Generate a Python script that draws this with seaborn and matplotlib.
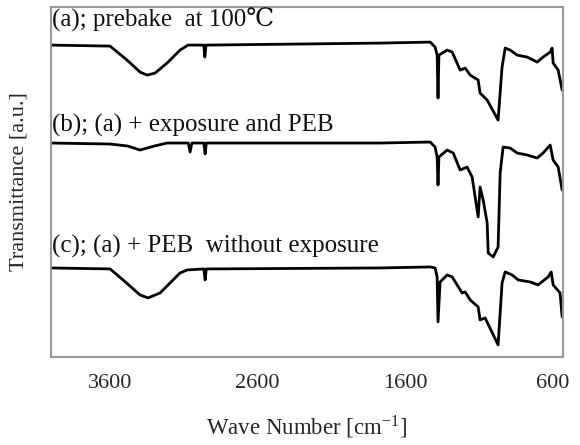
import matplotlib
matplotlib.use("Agg")
import matplotlib.pyplot as plt
import seaborn as sns
import pandas as pd

# ---- data (wave number [cm-1], transmittance [a.u.]) ----
wn_a = [4000, 3600, 3485, 3397, 3349, 3295, 3214, 3126, 3072, 2965, 2958, 2950,
        1770, 1431, 1398, 1384, 1378, 1372, 1316, 1282, 1228, 1194, 1160, 1106,
        1093, 1045, 971, 944, 923, 889, 842, 774, 706, 666, 618, 605, 598, 564, 537]
t_a = [3.12, 3.11, 2.97, 2.85, 2.82, 2.84, 2.94, 3.07, 3.12, 3.12, 3.00, 3.12,
       3.14, 3.15, 3.10, 3.02, 2.59, 3.02, 3.07, 3.05, 2.87, 2.89, 2.82, 2.77,
       2.64, 2.57, 2.37, 2.90, 3.09, 3.07, 3.02, 3.00, 2.95, 3.00, 3.05, 3.09, 2.94, 2.87, 2.67]

wn_b = [4000, 3600, 3480, 3397, 3300, 3214, 3070, 3058, 3046, 2965, 2956, 2948,
        1770, 1431, 1398, 1384, 1378, 1372, 1316, 1275, 1228, 1181, 1147, 1106,
        1093, 1072, 1045, 1038, 1004, 971, 957, 937, 889, 842, 774, 706, 666, 618,
        598, 564, 537]
t_b = [2.14, 2.13, 2.11, 2.07, 2.11, 2.14, 2.14, 2.05, 2.14, 2.14, 2.03, 2.14,
       2.14, 2.15, 2.10, 2.00, 1.72, 2.00, 2.07, 2.04, 1.87, 1.90, 1.80, 1.40,
       1.70, 1.57, 1.34, 1.04, 1.00, 1.10, 1.84, 2.10, 2.09, 2.04, 2.02, 1.99, 2.04, 2.12,
       1.97, 1.90, 1.67]

wn_c = [4000, 3600, 3512, 3397, 3343, 3261, 3126, 3078, 2965, 2956, 2948,
        1770, 1431, 1398, 1384, 1378, 1364, 1316, 1282, 1215, 1194, 1160, 1106,
        1093, 1059, 971, 944, 923, 876, 835, 754, 700, 632, 611, 598, 551, 537]
t_c = [0.89, 0.88, 0.77, 0.62, 0.59, 0.64, 0.84, 0.87, 0.88, 0.77, 0.88,
       0.89, 0.90, 0.89, 0.80, 0.35, 0.75, 0.82, 0.80, 0.64, 0.65, 0.57, 0.50,
       0.37, 0.39, 0.12, 0.74, 0.85, 0.82, 0.77, 0.75, 0.72, 0.80, 0.85, 0.72, 0.64, 0.40]

labels = ["(a); prebake  at 100\u2103",
          "(b); (a) + exposure and PEB",
          "(c); (a) + PEB  without exposure"]
label_y = [3.37, 2.32, 1.11]
xticks = [3600, 2600, 1600, 600]

df = pd.concat([
    pd.DataFrame({"wn": wn_a, "T": t_a, "s": "a"}),
    pd.DataFrame({"wn": wn_b, "T": t_b, "s": "b"}),
    pd.DataFrame({"wn": wn_c, "T": t_c, "s": "c"}),
])

sns.set_style("white")
plt.rcParams["font.family"] = ["Liberation Serif", "DejaVu Serif"]
plt.rcParams["mathtext.fontset"] = "stix"

fig = plt.figure(figsize=(5.8, 4.45), dpi=100)
ax = fig.add_axes([0.088, 0.198, 0.883, 0.786])

sns.lineplot(data=df, x="wn", y="T", units="s", estimator=None,
             color="black", linewidth=2.0, ax=ax, legend=False)

for lab, ly in zip(labels, label_y):
    ax.text(3993, ly, lab, fontsize=18, va="center", ha="left",
            family=["Liberation Serif", "DejaVu Serif"], color="#111")

ax.set_xlim(4000, 530)
ax.set_ylim(0, 3.5)
ax.set_xticks(xticks)
ax.set_xticklabels([str(v) for v in xticks], fontsize=16)
ax.set_yticks([])
ax.tick_params(axis="x", direction="in", length=5, color="#999", pad=12)
for sp in ax.spines.values():
    sp.set_color("#999")
    sp.set_linewidth(1.5)
ax.set_xlabel("Wave Number [cm$^{\\mathregular{-1}}$]", fontsize=16.5, labelpad=15)
ax.set_ylabel("Transmittance [a.u.]", fontsize=16, labelpad=16)

fig.savefig("out.png", dpi=100)
